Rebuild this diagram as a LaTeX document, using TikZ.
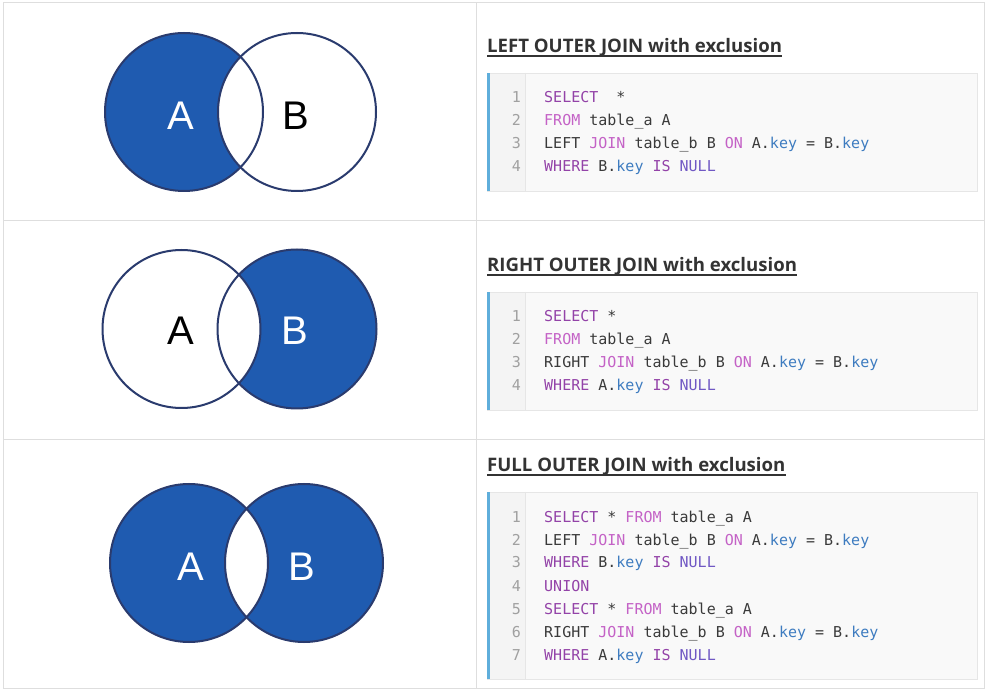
\documentclass[tikz,border=0pt]{standalone}
\usepackage{fontspec}
\setmainfont{Liberation Sans}
\newfontfamily\hdfont{Open Sans}
\newfontfamily\codefont{DejaVu Sans Mono}
\definecolor{vblue}{HTML}{1F5BB0}
\definecolor{vline}{HTML}{2A3B6E}
\definecolor{grid}{HTML}{DEDEDE}
\definecolor{boxbg}{HTML}{F9F9F9}
\definecolor{boxbd}{HTML}{E6E6E6}
\definecolor{gutter}{HTML}{F4F4F4}
\definecolor{bar}{HTML}{5FAEDB}
\definecolor{numc}{HTML}{A0A0A0}
\definecolor{txt}{HTML}{3A3A3A}
\definecolor{kwp}{HTML}{9343A8}
\definecolor{kwm}{HTML}{C462C6}
\definecolor{kwn}{HTML}{7058C4}
\definecolor{kwb}{HTML}{3E7CC0}
\definecolor{hdc}{HTML}{333333}
\newcommand\kP[1]{\textcolor{kwp}{#1}}
\newcommand\kM[1]{\textcolor{kwm}{#1}}
\newcommand\kN[1]{\textcolor{kwn}{#1}}
\newcommand\kB[1]{\textcolor{kwb}{#1}}
\newcommand\codeln[4]{%
  \node[numtxt] (n#1) at (521,#3) {#2};
  \node[codetxt] (c#1) at (544,#3) {#4};}
\newcommand\codebox[3]{%
  \fill[boxbg] (487,#2) rectangle (977,#3);
  \fill[gutter] (490,#2) rectangle (525,#3);
  \draw[boxbd] (525,#2) -- (525,#3);
  \draw[boxbd] (487,#2) rectangle (977,#3);
  \fill[bar] (487,#2) rectangle (490,#3);
  \coordinate (box#1) at (487,#2);}
\begin{document}
\begin{tikzpicture}[x=1pt,y=-1pt,
  vl/.style={draw=vline,line width=2pt},
  letter/.style={inner sep=0pt,font=\fontsize{40}{40}\selectfont},
  hdtxt/.style={anchor=base west,inner sep=0pt,text=hdc,font=\hdfont\bfseries\fontsize{18.6}{20}\selectfont},
  numtxt/.style={anchor=base east,inner sep=0pt,text=numc,font=\codefont\fontsize{15}{18}\selectfont},
  codetxt/.style={anchor=base west,inner sep=0pt,text=txt,font=\codefont\fontsize{15}{18}\selectfont},
  gridline/.style={draw=grid,line width=1pt}]
\useasboundingbox (0,0) rectangle (986,692);
\fill[white] (0,0) rectangle (986,692);
% table grid
\draw[gridline] (3,3) rectangle (984,688);
\draw[gridline] (476,3) -- (476,688);
\draw[gridline] (3,221) -- (984,221);
\draw[gridline] (3,440) -- (984,440);
% ---------- Venn row 1 ----------
\coordinate (A1) at (184,112); \coordinate (B1) at (297,112);
\fill[vblue] (A1) circle[radius=79];
\begin{scope}\clip (A1) circle[radius=79]; \fill[white] (B1) circle[radius=79];\end{scope}
\draw[vl] (A1) circle[radius=79];
\draw[vl] (B1) circle[radius=79];
\node[letter,text=white] (la1) at (181,116) {A};
\node[letter,text=black] (lb1) at (296,116) {B};
% ---------- Venn row 2 ----------
\coordinate (A2) at (181.5,329); \coordinate (B2) at (297,329);
\fill[vblue] (B2) circle[radius=79.5];
\begin{scope}\clip (B2) circle[radius=79.5]; \fill[white] (A2) circle[radius=79];\end{scope}
\draw[vl] (A2) circle[radius=79];
\draw[vl] (B2) circle[radius=79.5];
\node[letter,text=black] (la2) at (181,331) {A};
\node[letter,text=white] (lb2) at (295,331) {B};
% ---------- Venn row 3 ----------
\coordinate (A3) at (189,563); \coordinate (B3) at (304,563);
\fill[vblue] (A3) circle[radius=79];
\fill[vblue] (B3) circle[radius=79];
\begin{scope}\clip (A3) circle[radius=79]; \fill[white] (B3) circle[radius=79];\end{scope}
\draw[vl] (A3) circle[radius=79];
\draw[vl] (B3) circle[radius=79];
\node[letter,text=white] (la3) at (191,567) {A};
\node[letter,text=white] (lb3) at (302,567) {B};
% ---------- headers ----------
\node[hdtxt] (h1) at (487,53) {LEFT OUTER JOIN with exclusion};
\draw[hdc,line width=1.2pt] ([yshift=-3pt]h1.base west) -- ([yshift=-3pt]h1.base east);
\node[hdtxt] (h2) at (487,272) {RIGHT OUTER JOIN with exclusion};
\draw[hdc,line width=1.2pt] ([yshift=-3pt]h2.base west) -- ([yshift=-3pt]h2.base east);
\node[hdtxt] (h3) at (487,472) {FULL OUTER JOIN with exclusion};
\draw[hdc,line width=1.2pt] ([yshift=-3pt]h3.base west) -- ([yshift=-3pt]h3.base east);
% ---------- code box 1 ----------
\codebox{1}{73}{191}
\codeln{a1}{1}{103}{\kP{SELECT}~~*}
\codeln{a2}{2}{126}{\kM{FROM} table\_a A}
\codeln{a3}{3}{149}{LEFT \kM{JOIN} table\_b B \kM{ON} A.\kB{key} = B.\kB{key}}
\codeln{a4}{4}{172}{\kP{WHERE} B.\kB{key} \kP{IS} \kN{NULL}}
% ---------- code box 2 ----------
\codebox{2}{292}{410}
\codeln{b1}{1}{322}{\kP{SELECT} *}
\codeln{b2}{2}{345}{\kM{FROM} table\_a A}
\codeln{b3}{3}{368}{RIGHT \kM{JOIN} table\_b B \kM{ON} A.\kB{key} = B.\kB{key}}
\codeln{b4}{4}{391}{\kP{WHERE} A.\kB{key} \kP{IS} \kN{NULL}}
% ---------- code box 3 ----------
\codebox{3}{492}{679}
\codeln{d1}{1}{522}{\kP{SELECT} * \kM{FROM} table\_a A}
\codeln{d2}{2}{545}{LEFT \kM{JOIN} table\_b B \kM{ON} A.\kB{key} = B.\kB{key}}
\codeln{d3}{3}{568}{\kP{WHERE} B.\kB{key} \kP{IS} \kN{NULL}}
\codeln{d4}{4}{591}{\kP{UNION}}
\codeln{d5}{5}{614}{\kP{SELECT} * \kM{FROM} table\_a A}
\codeln{d6}{6}{637}{RIGHT \kM{JOIN} table\_b B \kM{ON} A.\kB{key} = B.\kB{key}}
\codeln{d7}{7}{660}{\kP{WHERE} A.\kB{key} \kP{IS} \kN{NULL}}
\end{tikzpicture}
\end{document}
